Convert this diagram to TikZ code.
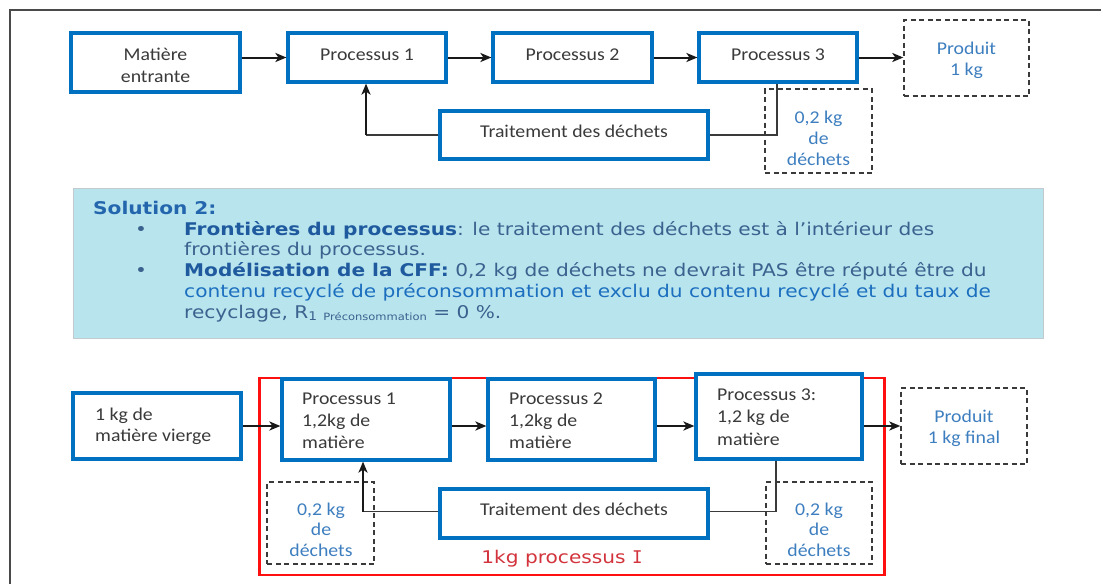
\documentclass[tikz,border=0pt]{standalone}
\usepackage{fontspec}
\usetikzlibrary{arrows.meta}
\newfontfamily\calib[FakeStretch=1.1]{Carlito}
\newfontfamily\verd[FakeStretch=1.15]{DejaVu Sans}
\newfontfamily\verdmono[FakeStretch=1.0]{DejaVu Sans Mono}
\newcommand\lnstrut{\rule{0pt}{14pt}}

\definecolor{boxblue}{HTML}{0070C0}
\definecolor{txtgray}{HTML}{3A3A3A}
\definecolor{lblblue}{HTML}{3D7EBF}
\definecolor{panel}{HTML}{B8E4EE}
\definecolor{panelrule}{HTML}{C3CACD}
\definecolor{headblue}{HTML}{2466AE}
\definecolor{boldblue}{HTML}{1F5A9E}
\definecolor{slate}{HTML}{3A628E}
\definecolor{brightblue}{HTML}{1C6FBF}
\definecolor{redline}{HTML}{FF1010}
\definecolor{redtxt}{HTML}{D2333C}
\definecolor{framegray}{HTML}{4A4A4A}

\tikzset{
  x=1pt, y=-1pt,
  bluebox/.style={draw=boxblue, line width=3.2pt, fill=white, inner sep=0pt},
  dashbox/.style={draw=txtgray, line width=1.4pt, dash pattern=on 5pt off 3.5pt, inner sep=0pt},
  lbl/.style={font=\calib\fontsize{18}{22}\selectfont, text=txtgray, inner sep=0pt},
  bluelbl/.style={lbl, text=lblblue, align=center, anchor=north},
  leftlbl/.style={lbl, align=left, anchor=north west},
  ptxt/.style={font=\verd\fontsize{17.5}{21}\selectfont, inner sep=0pt, anchor=base west},
  flow/.style={draw=black!90, line width=2pt, -{Stealth[length=11pt,width=9pt,inset=3pt]}},
  back/.style={draw=txtgray, line width=1.3pt},
}

\begin{document}
\begin{tikzpicture}
\useasboundingbox (0,0) rectangle (1101,584);

% page frame
\draw[framegray, line width=2pt] (10,584) -- (10,10) -- (1101,10);

% ---------- first scheme ----------
\node[bluebox, minimum width=169, minimum height=59] (me) at (155.5,62.5) {};
\node[lbl, align=center, anchor=north] (met) at (155.5,46) {\lnstrut Matière\\entrante};
\node[bluebox, minimum width=158, minimum height=49] (p1) at (367,57.5) {};
\node[lbl, anchor=base] (p1t) at (367,60) {Processus 1};
\node[bluebox, minimum width=159, minimum height=49] (p2) at (572.5,57.5) {};
\node[lbl, anchor=base] (p2t) at (572.5,60) {Processus 2};
\node[bluebox, minimum width=158, minimum height=49] (p3) at (778,57.5) {};
\node[lbl, anchor=base] (p3t) at (778,60) {Processus 3};
\node[dashbox, minimum width=125, minimum height=76] (prod) at (966.5,58) {};
\node[bluelbl, font=\calib\fontsize{18}{21}\selectfont] (prodt) at (966.5,40) {\lnstrut Produit\\1 kg};
\node[bluebox, minimum width=268, minimum height=48] (tr) at (574,135) {};
\node[lbl, anchor=base] (trt) at (574,137) {Traitement des déchets};
\node[dashbox, minimum width=107, minimum height=84] (dech) at (818.5,131) {};
\node[bluelbl, font=\calib\fontsize{18}{21}\selectfont] (decht) at (818.5,109) {\lnstrut 0,2 kg\\de\\déchets};

\draw[flow] (me.east |- p1.west) -- (p1.west);
\draw[flow] (p1.east) -- (p2.west);
\draw[flow] (p2.east) -- (p3.west);
\draw[flow] (p3.east) -- (p3.east -| prod.west);
\draw[back] ([xshift=-1pt]p3.south) |- (tr.east);
\coordinate (k1) at ([xshift=-1pt]p1.south |- tr.west);
\draw[back] (tr.west) -- (k1);
\draw[flow] (k1) -- ([xshift=-1pt]p1.south);

% ---------- explanation panel ----------
\node[fill=panel, draw=panelrule, line width=1pt, minimum width=970, minimum height=150, inner sep=0pt] (pan) at (558,263) {};
\node[ptxt, text=headblue] (sol) at (93,214) {\bfseries Solution 2:};
\node[ptxt, text=slate, anchor=base] (b1) at (141,235) {•};
\node[ptxt, text=slate, anchor=base] (b2) at (141,276.5) {•};
\node[ptxt, text=slate] (l1) at (184,235) {{\bfseries\color{boldblue}Frontières du processus}: le traitement des déchets est à l’intérieur des};
\node[ptxt, text=slate] (l2) at (184,255) {frontières du processus.};
\node[ptxt, text=slate] (l3) at (184,276.5) {{\bfseries\color{boldblue}Modélisation de la CFF:} 0,2 kg de déchets ne devrait PAS être réputé être du};
\node[ptxt, text=brightblue] (l4) at (184,297.5) {contenu recyclé de préconsommation et exclu du contenu recyclé et du taux de};
\node[ptxt, text=slate] (l5) at (184,318) {recyclage, R{\fontsize{12}{12}\selectfont\raisebox{-2pt}{1}} {\fontsize{10}{10}\selectfont\raisebox{-2pt}{Préconsommation}} = 0~\%.};

% ---------- second scheme ----------
\node[draw=redline, line width=2.4pt, minimum width=625, minimum height=197, inner sep=0pt] (sys) at (572,476.5) {};
\node[font=\verd\fontsize{17.5}{21}\selectfont, text=redtxt, inner sep=0pt, anchor=base] (syst) at (562,563) {1kg processus {\verdmono I}};

\node[bluebox, minimum width=168, minimum height=66] (vierge) at (157,426) {};
\node[leftlbl, font=\calib\fontsize{18}{21.5}\selectfont] (viergt) at (95,406) {\lnstrut 1 kg de\\matière vierge};
\node[bluebox, minimum width=168, minimum height=81] (bp1) at (366,419.5) {};
\node[leftlbl] (bp1t) at (302,390) {\lnstrut Processus 1\\1,2kg de\\matière};
\node[bluebox, minimum width=167, minimum height=81] (bp2) at (571.5,419.5) {};
\node[leftlbl] (bp2t) at (509,390) {\lnstrut Processus 2\\1,2kg de\\matière};
\node[bluebox, minimum width=166, minimum height=85] (bp3) at (779,416.5) {};
\node[leftlbl, font=\calib\fontsize{18}{22.5}\selectfont] (bp3t) at (717,386) {\lnstrut Processus 3:\\1,2 kg de\\matière};
\node[dashbox, minimum width=126, minimum height=76] (bprod) at (964,426) {};
\node[bluelbl, font=\calib\fontsize{18}{21}\selectfont] (bprodt) at (964,408) {\lnstrut Produit\\1 kg final};
\node[bluebox, minimum width=268, minimum height=49] (btr) at (574,513.5) {};
\node[lbl, anchor=base] (btrt) at (574,515) {Traitement des déchets};
\node[dashbox, minimum width=107, minimum height=82] (bdl) at (320.5,523) {};
\node[bluelbl, font=\calib\fontsize{18}{20.5}\selectfont] (bdlt) at (321,501) {\lnstrut 0,2 kg\\de\\déchets};
\node[dashbox, minimum width=106, minimum height=82] (bdr) at (819,523) {};
\node[bluelbl, font=\calib\fontsize{18}{20.5}\selectfont] (bdrt) at (819,501) {\lnstrut 0,2 kg\\de\\déchets};

\draw[flow] (vierge.east) -- (vierge.east -| bp1.west);
\draw[flow] (bp1.east |- vierge.east) -- (bp2.west |- vierge.east);
\draw[flow] (bp2.east |- vierge.east) -- (bp3.west |- vierge.east);
\draw[flow] (bp3.east |- vierge.east) -- (bprod.west |- vierge.east);
\draw[back] ([xshift=-3pt]bp3.south) |- ([yshift=2pt]btr.east);
\coordinate (k2) at ([xshift=-3pt,yshift=2pt]bp1.south |- btr.west);
\draw[back] ([yshift=2pt]btr.west) -- (k2);
\draw[flow, line width=2.5pt] (k2) -- ([xshift=-3pt]bp1.south);
\end{tikzpicture}
\end{document}
